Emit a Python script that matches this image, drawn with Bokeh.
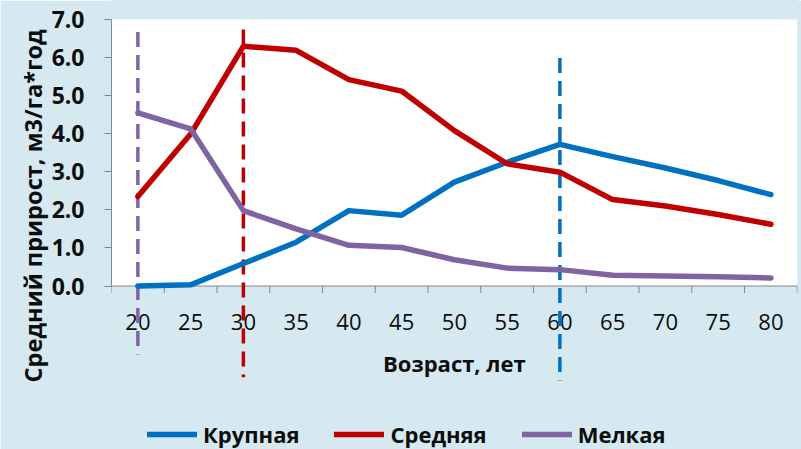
import numpy as np
from bokeh.plotting import figure
from bokeh.models import (Range1d, FixedTicker, PrintfTickFormatter, BoxAnnotation,
                          Legend, LegendItem, Title)
from bokeh.core.properties import value
from bokeh.embed import file_html
from bokeh.resources import INLINE

# ---------------- data ----------------
ages = [20, 25, 30, 35, 40, 45, 50, 55, 60, 65, 70, 75, 80]
age_labels = [str(a) for a in ages]
krupnaya = [0.00, 0.03, 0.59, 1.15, 1.98, 1.86, 2.73, 3.25, 3.72, 3.40, 3.10, 2.77, 2.40]
srednyaya = [2.35, 3.99, 6.30, 6.19, 5.42, 5.12, 4.08, 3.21, 2.99, 2.27, 2.10, 1.88, 1.62]
melkaya = [4.55, 4.13, 1.98, 1.50, 1.07, 1.01, 0.69, 0.47, 0.43, 0.28, 0.26, 0.24, 0.21]
series_names = ["Крупная", "Средняя", "Мелкая"]
y_ticks = [0, 1, 2, 3, 4, 5, 6, 7]
x_title = "Возраст, лет"
y_title = "Средний прирост, м3/га*год"
# vertical dashed markers (age, top value, bottom value) for each series
marker_ages = [60, 30, 20]
marker_tops = [5.99, 6.74, 6.67]
marker_bottoms = [-2.48, -2.40, -1.80]

# ---------------- styles ----------------
colors = ["#0070C0", "#C00000", "#8064A2"]
bg = "#d6e9f1"
axis_grey = "#868686"
FONT = "Open Sans"
TXT = "#0d0d0d"

W, H = 801, 449
LEFT, RIGHT = 111, 4
top_px, y0_px = 19.0, 285.5          # pixel rows of y=7 and y=0
k = (y0_px - top_px) / 7.0           # pixels per unit
y_end = 7 + top_px / k
y_start = -(H - y0_px) / k

p = figure(width=W, height=H, output_backend="svg", toolbar_location=None,
           x_range=Range1d(17.5, 82.52), y_range=Range1d(y_start, y_end),
           x_axis_location=None,
           min_border_left=LEFT, min_border_right=RIGHT, min_border_top=0,
           min_border_bottom=0)
p.background_fill_color = bg
p.border_fill_color = bg
p.outline_line_color = bg
p.outline_line_width = 2
p.grid.visible = False

# white plot area
p.add_layout(BoxAnnotation(bottom=0, top=7, fill_color="white", fill_alpha=1,
                           line_color=None, level="underlay"))

# y axis
ya = p.yaxis[0]
ya.bounds = (0, 7)
ya.ticker = FixedTicker(ticks=y_ticks)
ya.formatter = PrintfTickFormatter(format="%.1f")
ya.axis_line_color = axis_grey
ya.major_tick_line_color = axis_grey
ya.major_tick_out = 7
ya.major_tick_in = 0
ya.minor_tick_line_color = None
ya.major_label_standoff = 20
ya.major_label_text_font = FONT
ya.major_label_text_font_style = "bold"
ya.major_label_text_font_size = "23px"
ya.major_label_text_color = TXT

# y title as a side title, anchored at its lower end
p.add_layout(Title(text=y_title, align="left", offset=H - 382, standoff=0,
                   text_font=FONT, text_font_style="bold", text_font_size="23.6px",
                   text_color=TXT), "left")

# x axis drawn at y=0 (category boundaries as ticks)
step = ages[1] - ages[0]
bounds_x = [a - step / 2 for a in ages] + [ages[-1] + step / 2]
p.segment(x0=[bounds_x[0]], y0=[0], x1=[bounds_x[-1]], y1=[0],
          line_color=axis_grey, line_width=1)
p.segment(x0=bounds_x, y0=[0] * len(bounds_x), x1=bounds_x,
          y1=[-7 / k] * len(bounds_x), line_color=axis_grey, line_width=1)
p.text(x=ages, y=[0] * len(ages), text=age_labels, y_offset=36,
       text_align="center", text_baseline="middle",
       text_font=value(FONT), text_font_size="22px", text_color=TXT)
p.text(x=[(ages[0] + ages[-1]) / 2], y=[0], text=[x_title], y_offset=76.5,
       text_align="center", text_baseline="middle", text_font=value(FONT),
       text_font_size="22px", text_font_style="bold", text_color=TXT)

# dashed markers
p.segment(x0=marker_ages, y0=marker_tops, x1=marker_ages, y1=marker_bottoms,
          line_color=colors, line_width=3.5, line_dash="15 8")

# series lines
renderers = []
for name, ys, c in zip(series_names, [krupnaya, srednyaya, melkaya], colors):
    r = p.line(x=ages, y=ys, line_color=c, line_width=5.5,
               line_cap="round", line_join="round")
    renderers.append(r)

legend = Legend(items=[LegendItem(label=n, renderers=[r]) for n, r in zip(series_names, renderers)],
                orientation="horizontal", location=(36, 0),
                glyph_width=50, glyph_height=20, label_standoff=6, spacing=35,
                padding=0, margin=0, border_line_color=None,
                background_fill_alpha=0, label_text_font=FONT,
                label_text_font_style="bold", label_text_font_size="22px",
                label_text_color=TXT)
p.add_layout(legend)

open("out.html", "w").write(file_html(p, INLINE))
